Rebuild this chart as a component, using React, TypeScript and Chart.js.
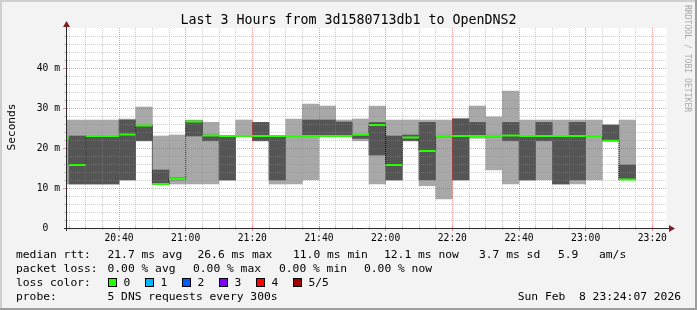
import { useEffect, useRef } from 'react';
import { Chart, registerables } from 'chart.js';

Chart.register(...registerables);

// ---- data (5-minute steps, values in ms) ----
const stepTimes = ['20:20', '20:25', '20:30', '20:35', '20:40', '20:45', '20:50', '20:55', '21:00', '21:05', '21:10', '21:15', '21:20', '21:25', '21:30', '21:35', '21:40', '21:45', '21:50', '21:55', '22:00', '22:05', '22:10', '22:15', '22:20', '22:25', '22:30', '22:35', '22:40', '22:45', '22:50', '22:55', '23:00', '23:05', '23:10'];
const minRtt = [11.0, 11.0, 11.0, 11.0, 12.0, 21.8, 11.0, 11.0, 11.0, 11.0, 12.0, 23.0, 21.8, 11.0, 11.0, 12.0, 23.0, 23.0, 21.8, 11.0, 12.0, 21.8, 10.6, 7.25, 12.0, 22.4, 14.5, 11.0, 12.0, 12.0, 11.0, 11.0, 12.0, 21.8, 12.1];
const lowRtt = [22.3, 11.0, 11.0, 11.0, 12.0, 21.8, 11.0, 12.0, 23.0, 21.8, 12.0, 23.0, 21.8, 12.0, 22.9, 23.0, 23.0, 23.0, 22.4, 18.25, 12.0, 21.8, 12.0, 22.8, 12.0, 23.0, 22.8, 21.8, 12.0, 21.8, 11.0, 12.0, 22.9, 21.8, 12.1];
const medianRtt = [22.4, 15.75, 23.0, 23.0, 23.4, 25.6, 11.0, 12.25, 26.6, 23.1, 23.0, 23.0, 23.0, 23.0, 23.0, 23.0, 23.0, 23.0, 23.3, 25.75, 15.75, 22.6, 19.25, 23.0, 23.0, 23.0, 23.0, 23.1, 23.0, 23.0, 23.0, 23.0, 23.0, 21.8, 12.1];
const highRtt = [22.5, 23.0, 23.0, 23.0, 27.0, 25.6, 14.5, 12.5, 26.75, 23.25, 23.0, 23.0, 26.4, 23.0, 23.1, 27.0, 27.0, 26.5, 23.4, 26.4, 23.0, 23.25, 26.4, 23.2, 27.2, 26.4, 23.2, 26.4, 23.0, 26.4, 23.0, 26.4, 23.1, 25.75, 15.75];
const maxRtt = [27.0, 27.0, 27.0, 27.0, 27.25, 30.25, 23.0, 23.25, 27.0, 26.4, 23.0, 27.0, 26.4, 23.0, 27.25, 31.0, 30.5, 27.0, 27.25, 30.5, 27.0, 27.0, 27.0, 27.0, 27.4, 30.5, 27.8, 34.25, 27.0, 27.0, 27.0, 27.0, 27.0, 25.75, 27.0];

const timeLabels = ['20:40', '21:00', '21:20', '21:40', '22:00', '22:20', '22:40', '23:00', '23:20'];
const yTickValues = [0, 10, 20, 30, 40];
const yTickLabels = ['0  ', '10 m', '20 m', '30 m', '40 m'];

const titleText = 'Last 3 Hours from 3d1580713db1 to OpenDNS2';
const unitText = 'Seconds';
const watermarkText = 'RRDTOOL / TOBI OETIKER';
const rttRow = ['median rtt:', '21.7 ms avg', '26.6 ms max', '11.0 ms min', '12.1 ms now', '3.7 ms sd', '5.9', 'am/s'];
const lossRow = ['packet loss:', '0.00 % avg', '0.00 % max', '0.00 % min', '0.00 % now'];
const lossColorLabel = 'loss color:';
const lossColorNames = ['0', '1', '2', '3', '4', '5/5'];
const lossColors = ['#26ff00', '#00b8ff', '#0059ff', '#7e00ff', '#ff0000', '#a10000'];
const probeRow = ['probe:', '5 DNS requests every 300s'];
const stampText = 'Sun Feb  8 23:24:07 2026';

// ---- layout / style ----
const W = 697;
const H = 310;
const STEP_MIN = 5;
const AXIS_START = 24.4; // minutes after 20:00
const AXIS_END = 204.4;
const PLOT_W = 600;
const MONO = 'DejaVu Sans Mono';
const GRID = 'rgba(140,140,140,0.42)';
const MGRID = 'rgba(228,60,60,0.5)';

const toMinutes = (t: string) => {
  const [h, m] = t.split(':').map(Number);
  return (h - 20) * 60 + m;
};
const starts = stepTimes.map(toMinutes);
const timeLabelMinutes = timeLabels.map(toMinutes);

const lightData = starts.map((s, i) => ({ x: s + STEP_MIN / 2, y: [minRtt[i], maxRtt[i]] }));
const darkData = starts
  .map((s, i) => ({ x: s + STEP_MIN / 2, y: [lowRtt[i], highRtt[i]] }))
  .filter((d) => d.y[1] > d.y[0]);
const medianData: any[] = [];
starts.forEach((s, i) => {
  medianData.push({ x: s, y: medianRtt[i] }, { x: s + STEP_MIN, y: medianRtt[i] }, { x: s + STEP_MIN, y: null });
});
const jumpData: any[] = [];
for (let i = 1; i < starts.length; i++) {
  if (medianRtt[i] !== medianRtt[i - 1]) {
    jumpData.push({ x: starts[i], y: medianRtt[i - 1] }, { x: starts[i], y: medianRtt[i] }, { x: starts[i], y: null });
  }
}

const rrdPlugin = {
  id: 'rrdLook',
  beforeDraw(chart: any) {
    const { ctx, chartArea: a } = chart;
    ctx.save();
    ctx.fillStyle = '#f3f3f3';
    ctx.fillRect(0, 0, W, H);
    ctx.fillStyle = '#cfcfcf';
    ctx.fillRect(0, 0, W, 2);
    ctx.fillRect(0, 0, 2, H);
    ctx.fillStyle = '#9e9e9e';
    ctx.fillRect(0, H - 2, W, 2);
    ctx.fillRect(W - 2, 0, 2, H);
    ctx.fillStyle = '#ffffff';
    ctx.fillRect(a.left, a.top, a.right - a.left, a.bottom - a.top);
    ctx.restore();
  },
  afterDatasetsDraw(chart: any) {
    const { ctx, chartArea: a, scales } = chart;
    const xs = scales.x;
    const ys = scales.y;
    ctx.save();
    ctx.lineWidth = 1;
    for (let v = Math.ceil(xs.min / STEP_MIN) * STEP_MIN; v <= xs.max; v += STEP_MIN) {
      const major = v % 20 === 0;
      const px = Math.floor(xs.getPixelForValue(v) + 1e-6) + 0.5;
      ctx.strokeStyle = major ? MGRID : GRID;
      ctx.setLineDash([1, 1]);
      ctx.beginPath();
      ctx.moveTo(px, a.top);
      ctx.lineTo(px, a.bottom);
      ctx.stroke();
      ctx.setLineDash([]);
      ctx.beginPath();
      ctx.moveTo(px, a.bottom - 2);
      ctx.lineTo(px, a.bottom + (major ? 3 : 2));
      ctx.stroke();
    }
    for (let v = 2; v < ys.max; v += 2) {
      const major = v % 10 === 0;
      const py = Math.round(ys.getPixelForValue(v)) + 0.5;
      ctx.strokeStyle = major ? MGRID : GRID;
      ctx.setLineDash([1, 1]);
      ctx.beginPath();
      ctx.moveTo(a.left, py);
      ctx.lineTo(a.right, py);
      ctx.stroke();
      ctx.setLineDash([]);
      ctx.beginPath();
      ctx.moveTo(a.left - (major ? 4 : 3), py);
      ctx.lineTo(a.left + 1, py);
      ctx.stroke();
    }
    // axes
    ctx.strokeStyle = '#2a2a2a';
    ctx.beginPath();
    ctx.moveTo(a.left - 3, a.bottom + 0.5);
    ctx.lineTo(a.right + 2, a.bottom + 0.5);
    ctx.moveTo(a.left - 0.5, a.bottom + 3);
    ctx.lineTo(a.left - 0.5, a.top - 1);
    ctx.stroke();
    ctx.fillStyle = '#7f1f1f';
    ctx.beginPath();
    ctx.moveTo(a.left - 0.5, a.top - 7);
    ctx.lineTo(a.left - 4, a.top - 1);
    ctx.lineTo(a.left + 3, a.top - 1);
    ctx.closePath();
    ctx.fill();
    ctx.beginPath();
    ctx.moveTo(a.right + 8, a.bottom + 0.5);
    ctx.lineTo(a.right + 2, a.bottom - 3);
    ctx.lineTo(a.right + 2, a.bottom + 4);
    ctx.closePath();
    ctx.fill();
    ctx.restore();
  },
  afterDraw(chart: any) {
    const { ctx } = chart;
    ctx.save();
    ctx.fillStyle = '#000';
    ctx.textBaseline = 'alphabetic';
    // title
    ctx.font = `13.3px "${MONO}"`;
    ctx.textAlign = 'center';
    ctx.fillText(titleText, W / 2, 23.5);
    // unit label
    ctx.font = `11.1px "${MONO}"`;
    ctx.save();
    ctx.translate(15, 127);
    ctx.rotate(-Math.PI / 2);
    ctx.fillText(unitText, 0, 0);
    ctx.restore();
    // watermark
    ctx.save();
    ctx.fillStyle = '#a8a8a8';
    ctx.font = `8.1px "${MONO}"`;
    ctx.textAlign = 'left';
    ctx.translate(685, 5);
    ctx.rotate(Math.PI / 2);
    ctx.fillText(watermarkText, 0, 0);
    ctx.restore();
    // legend
    ctx.font = `11.3px "${MONO}"`;
    ctx.textAlign = 'left';
    const rttX = [16, 107.5, 197.5, 293, 384, 479, 558, 599];
    rttRow.forEach((t, i) => ctx.fillText(t, rttX[i], 258.3));
    const lossX = [16, 107.5, 193, 279, 364];
    lossRow.forEach((t, i) => ctx.fillText(t, lossX[i], 272.3));
    ctx.fillText(lossColorLabel, 16, 286.3);
    lossColorNames.forEach((t, i) => {
      const x0 = 108 + i * 37;
      ctx.fillStyle = lossColors[i];
      ctx.fillRect(x0, 278, 9, 9);
      ctx.strokeStyle = '#000';
      ctx.lineWidth = 1;
      ctx.strokeRect(x0 + 0.5, 278.5, 8, 8);
      ctx.fillStyle = '#000';
      ctx.fillText(t, x0 + 15.5, 286.3);
    });
    ctx.fillText(probeRow[0], 16, 300.3);
    ctx.fillText(probeRow[1], 107.5, 300.3);
    ctx.textAlign = 'right';
    ctx.fillText(stampText, 681, 300.3);
    ctx.restore();
  },
};

export default function App() {
  const ref = useRef<HTMLCanvasElement>(null);
  useEffect(() => {
    document.body.style.margin = '0';
    Chart.defaults.font.family = MONO;
    const thickness = PLOT_W / ((AXIS_END - AXIS_START) / STEP_MIN);
    const chart = new Chart(ref.current as HTMLCanvasElement, {
      type: 'bar',
      data: {
        datasets: [
          {
            type: 'line',
            data: medianData,
            borderColor: '#26ff00',
            borderWidth: 2,
            pointRadius: 0,
            spanGaps: false,
            borderCapStyle: 'butt',
            clip: 0,
          } as any,
          {
            type: 'line',
            data: jumpData,
            borderColor: '#000000',
            borderWidth: 1,
            borderDash: [1, 1],
            pointRadius: 0,
            spanGaps: false,
            clip: 0,
          } as any,
          {
            type: 'bar',
            data: darkData,
            backgroundColor: '#555555',
            borderWidth: 0,
            grouped: false,
            barThickness: thickness,
            clip: 0,
          } as any,
          {
            type: 'bar',
            data: lightData,
            backgroundColor: '#a8a8a8',
            borderWidth: 0,
            grouped: false,
            barThickness: thickness,
            clip: 0,
          } as any,
        ],
      },
      options: {
        responsive: false,
        animation: false,
        events: [],
        layout: { padding: { left: 0, right: 30, top: 28, bottom: 0 } },
        plugins: { legend: { display: false }, tooltip: { enabled: false }, title: { display: false } },
        scales: {
          x: {
            type: 'linear',
            min: AXIS_START,
            max: AXIS_END,
            offset: false,
            grid: { display: false, drawTicks: false, offset: false },
            border: { display: false },
            afterBuildTicks: (s: any) => {
              s.ticks = timeLabelMinutes.map((v) => ({ value: v }));
            },
            ticks: {
              autoSkip: false,
              maxRotation: 0,
              minRotation: 0,
              padding: 5,
              color: '#000',
              font: { family: MONO, size: 9.7 },
              callback: (v: any) => {
                const idx = timeLabelMinutes.findIndex((t) => Math.abs(t - Number(v)) < 1e-6);
                return idx >= 0 ? timeLabels[idx] : '';
              },
            },
            afterFit: (s: any) => {
              s.height = 82;
            },
          },
          y: {
            type: 'linear',
            min: 0,
            max: 50,
            grid: { display: false, drawTicks: false },
            border: { display: false },
            afterBuildTicks: (s: any) => {
              s.ticks = yTickValues.map((v) => ({ value: v }));
            },
            ticks: {
              padding: 7,
              color: '#000',
              font: { family: MONO, size: 9.7 },
              callback: (v: any) => {
                const idx = yTickValues.indexOf(Number(v));
                return idx >= 0 ? yTickLabels[idx] : '';
              },
            },
            afterFit: (s: any) => {
              s.width = 67;
            },
          },
        },
      } as any,
      plugins: [rrdPlugin],
    });
    return () => chart.destroy();
  }, []);
  return <canvas ref={ref} width={W} height={H} style={{ display: 'block', width: W, height: H }} />;
}
